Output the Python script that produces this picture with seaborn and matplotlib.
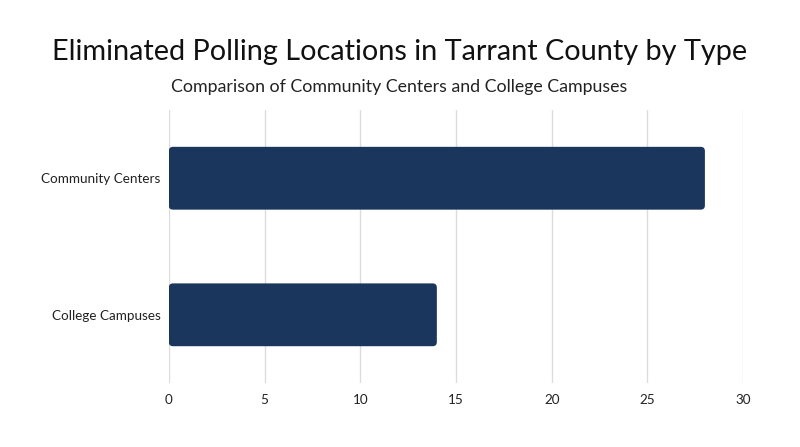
import matplotlib
matplotlib.use("Agg")
import matplotlib.pyplot as plt
import seaborn as sns
import pandas as pd
from matplotlib.patches import FancyBboxPatch

categories = ["Community Centers", "College Campuses"]
counts = [28, 14]
xticks = [0, 5, 10, 15, 20, 25, 30]

sns.set_theme(style="white")
plt.rcParams["font.family"] = ["Lato", "DejaVu Sans"]

df = pd.DataFrame({"type": categories, "count": counts})

fig = plt.figure(figsize=(8, 4.47), dpi=100)
ax = fig.add_axes([0.211, 0.143, 0.718, 0.611])

sns.barplot(data=df, x="count", y="type", color="#1b365d", width=0.46,
            saturation=1, ax=ax, zorder=3)

# swap plain bars for rounded ones
for p in list(ax.patches):
    x0, y0, w, h = p.get_x(), p.get_y(), p.get_width(), p.get_height()
    fc = p.get_facecolor()
    p.remove()
    rb = FancyBboxPatch((x0, y0), w, h,
                        boxstyle="round,pad=0,rounding_size=0.22",
                        mutation_aspect=0.14, facecolor=fc,
                        edgecolor="none", zorder=3)
    ax.add_patch(rb)

ax.set_xlim(0, 30)
ax.set_ylim(1.5, -0.5)
ax.set_xticks(xticks)
ax.set_xlabel("")
ax.set_ylabel("")
ax.grid(axis="x", color="#dcdcdc", linewidth=1, zorder=0)
ax.grid(axis="y", visible=False)
for s in ax.spines.values():
    s.set_visible(False)
ax.tick_params(axis="both", length=0, labelsize=9.7, labelcolor="#222222")
ax.tick_params(axis="x", pad=8)
ax.tick_params(axis="y", pad=6)

fig.text(0.4995, 0.884, "Eliminated Polling Locations in Tarrant County by Type",
         ha="center", va="center", fontsize=20.8, color="#111111")
fig.text(0.4995, 0.806, "Comparison of Community Centers and College Campuses",
         ha="center", va="center", fontsize=12.75, color="#222222")

fig.savefig("out.png", dpi=100, facecolor="white")
